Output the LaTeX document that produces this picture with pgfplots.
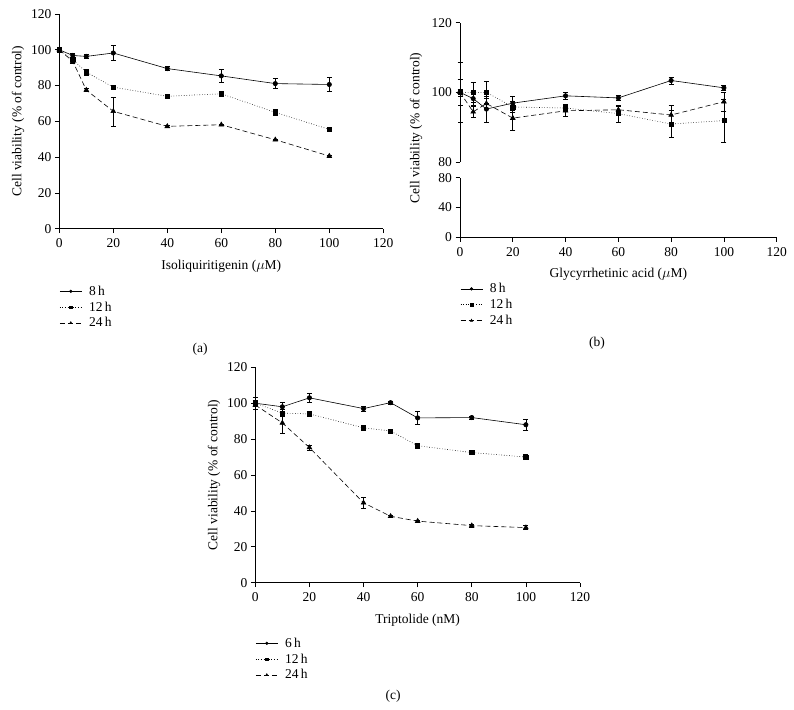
\documentclass[border=0pt]{standalone}
\usepackage{fontspec}
\setmainfont{Liberation Serif}
\usepackage{pgfplots}
\pgfplotsset{compat=1.18}
\newcommand\ff{\fontsize{13.5bp}{15bp}\selectfont}

\pgfplotsset{
  panel/.style={
    scale only axis, clip=false,
    axis x line=bottom, axis y line=left,
    axis line style={-, line width=0.6bp},
    tick align=outside, major tick length=4.5bp,
    tick style={line width=0.6bp, black},
    xmin=0, xmax=120, xtick={0,20,...,120},
    enlargelimits=false,
    ticklabel style={font=\ff}, label style={font=\ff},
    xticklabel style={yshift=-2bp},
    xlabel style={yshift=-5bp},
    /pgf/number format/assume math mode=true,
    legend cell align=left,
    legend image code/.code={\draw[mark repeat=2,mark phase=2,##1,mark size=1.3bp]
      plot coordinates {(0bp,0bp) (11bp,0bp) (22bp,0bp)};},
  },
  s1/.style={black, line width=0.6bp, mark=*, mark size=2.2bp, mark options={solid}},
  s2/.style={black, line width=0.6bp, dotted, mark=square*, mark size=2.1bp, mark options={solid}},
  s3/.style={black, line width=0.6bp, dash pattern=on 5bp off 3bp, mark=triangle*, mark size=2.7bp, mark options={solid}},
  eb/.style={error bars/y dir=both, error bars/y explicit,
    error bars/error bar style={line width=0.6bp, solid},
    error bars/error mark options={rotate=90, mark size=2.5bp, line width=0.6bp, solid}},
  lg/.style={legend style={draw=none, fill=none, at={(0,0)}, anchor=north west,
    yshift=-#1, font=\ff, inner sep=0pt, row sep=1bp,
    /tikz/every odd column/.append style={column sep=5bp}}},
}

\begin{document}
\begin{tikzpicture}
\useasboundingbox (0,0) rectangle (794bp,710bp);

% (a)
\begin{axis}[panel, at={(59.3bp,481.3bp)}, anchor=south west,
  width=324bp, height=214.7bp,
  ymin=0, ymax=120, ytick={0,20,...,120},
  xlabel={Isoliquiritigenin ($\mu$M)},
  ylabel={Cell viability (\% of control)},
  lg=55bp]
\addplot[s1, eb] coordinates {
  (0,100) +- (0,1) (5,96.8) +- (0,1.5) (10,96.3) +- (0,1) (20,98.2) +- (0,4.2)
  (40,89.5) +- (0,1) (60,85.4) +- (0,3.5) (80,81.1) +- (0,2.7) (100,80.6) +- (0,4)};
\addlegendentry{8\,h}
\addplot[s2, eb] coordinates {
  (0,100) +- (0,0.5) (5,94.5) +- (0,1) (10,87.5) +- (0,1.5) (20,79.1) +- (0,0.8)
  (40,74) +- (0,0.8) (60,75.4) +- (0,0.8) (80,65) +- (0,1.5) (100,55.5) +- (0,0.8)};
\addlegendentry{12\,h}
\addplot[s3, eb] coordinates {
  (0,100) +- (0,0.5) (5,93.5) +- (0,1) (10,77.5) +- (0,0.8) (20,65.6) +- (0,8.1)
  (40,57.2) +- (0,0.5) (60,58.1) +- (0,0.5) (80,49.7) +- (0,0.5) (100,40.6) +- (0,0.5)};
\addlegendentry{24\,h}
\end{axis}

% (b) upper part
\begin{axis}[panel, at={(460bp,548bp)}, anchor=south west,
  width=316.7bp, height=139.3bp, axis x line=none,
  ymin=80, ymax=120, ytick={80,100,120}]
\addplot[s1, eb] coordinates {
  (0,100) +- (0,1) (5,98.2) +- (0,2) (10,95.2) +- (0,3.7) (20,96.9) +- (0,2)
  (40,99) +- (0,1) (60,98.4) +- (0,0.7) (80,103.4) +- (0,1) (100,101.3) +- (0,0.6)};
\addplot[s2, eb] coordinates {
  (0,100) +- (0,3.7) (5,100) +- (0,2.8) (10,100) +- (0,3.1) (20,95.8) +- (0,1.5)
  (40,95.5) +- (0,1) (60,93.9) +- (0,2.5) (80,90.9) +- (0,3.9) (100,91.9) +- (0,6.2)};
\addplot[s3, eb] coordinates {
  (0,100) +- (0,8.6) (5,94.4) +- (0,1.5) (10,96.8) +- (0,1.5) (20,92.6) +- (0,3.5)
  (40,94.7) +- (0,1.5) (60,95) +- (0,1) (80,93.5) +- (0,2.7) (100,97.3) +- (0,2.7)};
\end{axis}

% (b) lower part
\begin{axis}[panel, at={(460bp,472.7bp)}, anchor=south west,
  width=316.7bp, height=59.6bp,
  ymin=0, ymax=80, ytick={0,40,80},
  xlabel={Glycyrrhetinic acid ($\mu$M)},
  lg=44bp]
\addlegendimage{s1}\addlegendentry{8\,h}
\addlegendimage{s2}\addlegendentry{12\,h}
\addlegendimage{s3}\addlegendentry{24\,h}
\end{axis}
\node[rotate=90, font=\ff] at (416bp,582bp) {Cell viability (\% of control)};

% (c)
\begin{axis}[panel, at={(255.3bp,127.3bp)}, anchor=south west,
  width=324.7bp, height=215.4bp,
  ymin=0, ymax=120, ytick={0,20,...,120},
  xlabel={Triptolide (nM)},
  ylabel={Cell viability (\% of control)},
  lg=53bp]
\addplot[s1, eb] coordinates {
  (0,100) +- (0,3.5) (10,98) +- (0,2.5) (20,103) +- (0,2.7) (40,97) +- (0,1.3)
  (50,100.3) +- (0,1) (60,91.8) +- (0,3.7) (80,92) +- (0,0.8) (100,88) +- (0,3)};
\addlegendentry{6\,h}
\addplot[s2, eb] coordinates {
  (0,100) +- (0,1.5) (10,94.5) +- (0,2) (20,94) +- (0,1.5) (40,86.3) +- (0,0.8)
  (50,84.5) +- (0,0.8) (60,76.3) +- (0,1.5) (80,72.5) +- (0,1) (100,70) +- (0,1.5)};
\addlegendentry{12\,h}
\addplot[s3, eb] coordinates {
  (0,99) +- (0,2.5) (10,89) +- (0,6) (20,75.3) +- (0,1.5) (40,44.5) +- (0,3.3)
  (50,37) +- (0,0.7) (60,34.3) +- (0,0.7) (80,31.8) +- (0,1) (100,30.7) +- (0,1)};
\addlegendentry{24\,h}
\end{axis}

\node[font=\ff] at (200bp,361bp) {(a)};
\node[font=\ff] at (597bp,367bp) {(b)};
\node[font=\ff] at (393bp,14bp) {(c)};
\end{tikzpicture}
\end{document}
